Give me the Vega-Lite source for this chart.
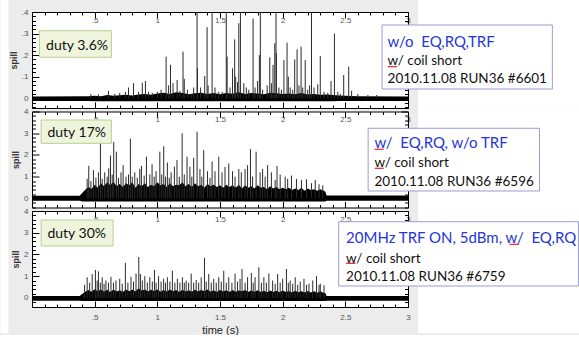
{
"$schema": "https://vega.github.io/schema/vega-lite/v6.json",
"padding": 0,
"background": "#ececec",
"bounds": "flush",
"spacing": 3.5,
"config": {"view": {"stroke": null, "fill": "white"}, "axis": {"grid": false, "domainColor": "black", "tickColor": "black", "labelFont": "Liberation Sans", "labelFontSize": 8, "labelColor": "#555", "titleFont": "Liberation Sans", "labelOverlap": false, "labelFlush": false, "labelBound": false}},
"datasets": {
"band": [
{"p":1,"t":0,"lo":-0.012,"hi":0.008},{"p":1,"t":0.45,"lo":-0.012,"hi":0.009},{"p":1,"t":0.5,"lo":-0.014,"hi":0.012},{"p":1,"t":0.55,"lo":-0.014,"hi":0.01},{"p":1,"t":0.6,"lo":-0.014,"hi":0.015},{"p":1,"t":0.65,"lo":-0.014,"hi":0.012},{"p":1,"t":0.7,"lo":-0.014,"hi":0.014},{"p":1,"t":0.75,"lo":-0.014,"hi":0.016},{"p":1,"t":0.8,"lo":-0.014,"hi":0.013},{"p":1,"t":0.85,"lo":-0.014,"hi":0.018},{"p":1,"t":0.9,"lo":-0.014,"hi":0.02},{"p":1,"t":0.95,"lo":-0.014,"hi":0.016},{"p":1,"t":1.0,"lo":-0.014,"hi":0.022},{"p":1,"t":1.05,"lo":-0.014,"hi":0.026},{"p":1,"t":1.1,"lo":-0.014,"hi":0.02},{"p":1,"t":1.15,"lo":-0.014,"hi":0.028},{"p":1,"t":1.2,"lo":-0.014,"hi":0.024},{"p":1,"t":1.25,"lo":-0.014,"hi":0.019},{"p":1,"t":1.3,"lo":-0.014,"hi":0.023},{"p":1,"t":1.35,"lo":-0.014,"hi":0.026},{"p":1,"t":1.4,"lo":-0.014,"hi":0.02},{"p":1,"t":1.45,"lo":-0.014,"hi":0.024},{"p":1,"t":1.5,"lo":-0.014,"hi":0.019},{"p":1,"t":1.55,"lo":-0.014,"hi":0.025},{"p":1,"t":1.6,"lo":-0.014,"hi":0.021},{"p":1,"t":1.65,"lo":-0.014,"hi":0.028},{"p":1,"t":1.7,"lo":-0.014,"hi":0.02},{"p":1,"t":1.75,"lo":-0.014,"hi":0.024},{"p":1,"t":1.8,"lo":-0.014,"hi":0.022},{"p":1,"t":1.85,"lo":-0.014,"hi":0.019},{"p":1,"t":1.9,"lo":-0.014,"hi":0.026},{"p":1,"t":1.95,"lo":-0.014,"hi":0.023},{"p":1,"t":2.0,"lo":-0.014,"hi":0.02},{"p":1,"t":2.05,"lo":-0.014,"hi":0.022},{"p":1,"t":2.1,"lo":-0.014,"hi":0.019},{"p":1,"t":2.15,"lo":-0.014,"hi":0.024},{"p":1,"t":2.2,"lo":-0.014,"hi":0.018},{"p":1,"t":2.25,"lo":-0.014,"hi":0.02},{"p":1,"t":2.3,"lo":-0.014,"hi":0.016},{"p":1,"t":2.35,"lo":-0.014,"hi":0.018},{"p":1,"t":2.4,"lo":-0.014,"hi":0.015},{"p":1,"t":2.45,"lo":-0.013,"hi":0.013},{"p":1,"t":2.5,"lo":-0.013,"hi":0.012},{"p":1,"t":2.55,"lo":-0.012,"hi":0.011},{"p":1,"t":2.6,"lo":-0.012,"hi":0.009},{"p":1,"t":3.0,"lo":-0.012,"hi":0.008},
{"p":2,"t":0,"lo":-0.11,"hi":0.12},{"p":2,"t":0.38,"lo":-0.11,"hi":0.12},{"p":2,"t":0.4,"lo":-0.14,"hi":0.25},{"p":2,"t":0.425,"lo":-0.14,"hi":0.4},{"p":2,"t":0.45,"lo":-0.14,"hi":0.52},{"p":2,"t":0.475,"lo":-0.14,"hi":0.43},{"p":2,"t":0.5,"lo":-0.14,"hi":0.63},{"p":2,"t":0.525,"lo":-0.14,"hi":0.49},{"p":2,"t":0.55,"lo":-0.14,"hi":0.7},{"p":2,"t":0.575,"lo":-0.14,"hi":0.56},{"p":2,"t":0.6,"lo":-0.14,"hi":0.74},{"p":2,"t":0.625,"lo":-0.14,"hi":0.6},{"p":2,"t":0.65,"lo":-0.14,"hi":0.77},{"p":2,"t":0.675,"lo":-0.14,"hi":0.56},{"p":2,"t":0.7,"lo":-0.14,"hi":0.66},{"p":2,"t":0.725,"lo":-0.14,"hi":0.52},{"p":2,"t":0.75,"lo":-0.14,"hi":0.7},{"p":2,"t":0.775,"lo":-0.14,"hi":0.6},{"p":2,"t":0.8,"lo":-0.14,"hi":0.74},{"p":2,"t":0.825,"lo":-0.14,"hi":0.49},{"p":2,"t":0.85,"lo":-0.14,"hi":0.66},{"p":2,"t":0.875,"lo":-0.14,"hi":0.56},{"p":2,"t":0.9,"lo":-0.14,"hi":0.7},{"p":2,"t":0.925,"lo":-0.14,"hi":0.52},{"p":2,"t":0.95,"lo":-0.14,"hi":0.63},{"p":2,"t":0.975,"lo":-0.14,"hi":0.56},{"p":2,"t":1.0,"lo":-0.14,"hi":0.74},{"p":2,"t":1.025,"lo":-0.14,"hi":0.6},{"p":2,"t":1.05,"lo":-0.14,"hi":0.66},{"p":2,"t":1.075,"lo":-0.14,"hi":0.52},{"p":2,"t":1.1,"lo":-0.14,"hi":0.7},{"p":2,"t":1.125,"lo":-0.14,"hi":0.56},{"p":2,"t":1.15,"lo":-0.14,"hi":0.63},{"p":2,"t":1.175,"lo":-0.14,"hi":0.6},{"p":2,"t":1.2,"lo":-0.14,"hi":0.74},{"p":2,"t":1.225,"lo":-0.14,"hi":0.56},{"p":2,"t":1.25,"lo":-0.14,"hi":0.66},{"p":2,"t":1.275,"lo":-0.14,"hi":0.52},{"p":2,"t":1.3,"lo":-0.14,"hi":0.7},{"p":2,"t":1.325,"lo":-0.14,"hi":0.56},{"p":2,"t":1.35,"lo":-0.14,"hi":0.63},{"p":2,"t":1.375,"lo":-0.14,"hi":0.49},{"p":2,"t":1.4,"lo":-0.14,"hi":0.66},{"p":2,"t":1.425,"lo":-0.14,"hi":0.56},{"p":2,"t":1.45,"lo":-0.14,"hi":0.63},{"p":2,"t":1.475,"lo":-0.14,"hi":0.52},{"p":2,"t":1.5,"lo":-0.14,"hi":0.6},{"p":2,"t":1.525,"lo":-0.14,"hi":0.49},{"p":2,"t":1.55,"lo":-0.14,"hi":0.63},{"p":2,"t":1.575,"lo":-0.14,"hi":0.52},{"p":2,"t":1.6,"lo":-0.14,"hi":0.6},{"p":2,"t":1.625,"lo":-0.14,"hi":0.49},{"p":2,"t":1.65,"lo":-0.14,"hi":0.63},{"p":2,"t":1.675,"lo":-0.14,"hi":0.45},{"p":2,"t":1.7,"lo":-0.14,"hi":0.6},{"p":2,"t":1.725,"lo":-0.14,"hi":0.49},{"p":2,"t":1.75,"lo":-0.14,"hi":0.56},{"p":2,"t":1.775,"lo":-0.14,"hi":0.45},{"p":2,"t":1.8,"lo":-0.14,"hi":0.6},{"p":2,"t":1.825,"lo":-0.14,"hi":0.49},{"p":2,"t":1.85,"lo":-0.14,"hi":0.52},{"p":2,"t":1.875,"lo":-0.14,"hi":0.42},{"p":2,"t":1.9,"lo":-0.14,"hi":0.56},{"p":2,"t":1.925,"lo":-0.14,"hi":0.45},{"p":2,"t":1.95,"lo":-0.14,"hi":0.52},{"p":2,"t":1.975,"lo":-0.14,"hi":0.42},{"p":2,"t":2.0,"lo":-0.14,"hi":0.49},{"p":2,"t":2.025,"lo":-0.14,"hi":0.42},{"p":2,"t":2.05,"lo":-0.14,"hi":0.49},{"p":2,"t":2.075,"lo":-0.14,"hi":0.38},{"p":2,"t":2.1,"lo":-0.14,"hi":0.45},{"p":2,"t":2.125,"lo":-0.14,"hi":0.38},{"p":2,"t":2.15,"lo":-0.14,"hi":0.49},{"p":2,"t":2.175,"lo":-0.14,"hi":0.35},{"p":2,"t":2.2,"lo":-0.14,"hi":0.45},{"p":2,"t":2.225,"lo":-0.14,"hi":0.38},{"p":2,"t":2.25,"lo":-0.14,"hi":0.42},{"p":2,"t":2.275,"lo":-0.14,"hi":0.35},{"p":2,"t":2.3,"lo":-0.14,"hi":0.42},{"p":2,"t":2.325,"lo":-0.14,"hi":0.35},{"p":2,"t":2.34,"lo":-0.14,"hi":0.32},{"p":2,"t":2.35,"lo":-0.11,"hi":0.13},{"p":2,"t":3.0,"lo":-0.11,"hi":0.13},
{"p":3,"t":0,"lo":-0.13,"hi":0.09},{"p":3,"t":0.38,"lo":-0.13,"hi":0.09},{"p":3,"t":0.4,"lo":-0.14,"hi":0.18},{"p":3,"t":0.425,"lo":-0.14,"hi":0.28},{"p":3,"t":0.45,"lo":-0.14,"hi":0.36},{"p":3,"t":0.475,"lo":-0.14,"hi":0.28},{"p":3,"t":0.5,"lo":-0.14,"hi":0.4},{"p":3,"t":0.525,"lo":-0.14,"hi":0.3},{"p":3,"t":0.55,"lo":-0.14,"hi":0.38},{"p":3,"t":0.575,"lo":-0.14,"hi":0.28},{"p":3,"t":0.6,"lo":-0.14,"hi":0.37},{"p":3,"t":0.625,"lo":-0.14,"hi":0.27},{"p":3,"t":0.65,"lo":-0.14,"hi":0.39},{"p":3,"t":0.675,"lo":-0.14,"hi":0.29},{"p":3,"t":0.7,"lo":-0.14,"hi":0.35},{"p":3,"t":0.725,"lo":-0.14,"hi":0.27},{"p":3,"t":0.75,"lo":-0.14,"hi":0.39},{"p":3,"t":0.775,"lo":-0.14,"hi":0.3},{"p":3,"t":0.8,"lo":-0.14,"hi":0.37},{"p":3,"t":0.825,"lo":-0.14,"hi":0.29},{"p":3,"t":0.85,"lo":-0.14,"hi":0.44},{"p":3,"t":0.875,"lo":-0.14,"hi":0.34},{"p":3,"t":0.9,"lo":-0.14,"hi":0.39},{"p":3,"t":0.925,"lo":-0.14,"hi":0.29},{"p":3,"t":0.95,"lo":-0.14,"hi":0.37},{"p":3,"t":0.975,"lo":-0.14,"hi":0.3},{"p":3,"t":1.0,"lo":-0.14,"hi":0.38},{"p":3,"t":1.025,"lo":-0.14,"hi":0.28},{"p":3,"t":1.05,"lo":-0.14,"hi":0.36},{"p":3,"t":1.075,"lo":-0.14,"hi":0.29},{"p":3,"t":1.1,"lo":-0.14,"hi":0.38},{"p":3,"t":1.125,"lo":-0.14,"hi":0.3},{"p":3,"t":1.15,"lo":-0.14,"hi":0.36},{"p":3,"t":1.175,"lo":-0.14,"hi":0.27},{"p":3,"t":1.2,"lo":-0.14,"hi":0.37},{"p":3,"t":1.225,"lo":-0.14,"hi":0.29},{"p":3,"t":1.25,"lo":-0.14,"hi":0.35},{"p":3,"t":1.275,"lo":-0.14,"hi":0.28},{"p":3,"t":1.3,"lo":-0.14,"hi":0.37},{"p":3,"t":1.325,"lo":-0.14,"hi":0.29},{"p":3,"t":1.35,"lo":-0.14,"hi":0.36},{"p":3,"t":1.375,"lo":-0.14,"hi":0.3},{"p":3,"t":1.4,"lo":-0.14,"hi":0.38},{"p":3,"t":1.425,"lo":-0.14,"hi":0.28},{"p":3,"t":1.45,"lo":-0.14,"hi":0.35},{"p":3,"t":1.475,"lo":-0.14,"hi":0.27},{"p":3,"t":1.5,"lo":-0.14,"hi":0.36},{"p":3,"t":1.525,"lo":-0.14,"hi":0.29},{"p":3,"t":1.55,"lo":-0.14,"hi":0.35},{"p":3,"t":1.575,"lo":-0.14,"hi":0.27},{"p":3,"t":1.6,"lo":-0.14,"hi":0.36},{"p":3,"t":1.625,"lo":-0.14,"hi":0.28},{"p":3,"t":1.65,"lo":-0.14,"hi":0.34},{"p":3,"t":1.675,"lo":-0.14,"hi":0.3},{"p":3,"t":1.7,"lo":-0.14,"hi":0.36},{"p":3,"t":1.725,"lo":-0.14,"hi":0.27},{"p":3,"t":1.75,"lo":-0.14,"hi":0.34},{"p":3,"t":1.775,"lo":-0.14,"hi":0.28},{"p":3,"t":1.8,"lo":-0.14,"hi":0.35},{"p":3,"t":1.825,"lo":-0.14,"hi":0.27},{"p":3,"t":1.85,"lo":-0.14,"hi":0.33},{"p":3,"t":1.875,"lo":-0.14,"hi":0.26},{"p":3,"t":1.9,"lo":-0.14,"hi":0.34},{"p":3,"t":1.925,"lo":-0.14,"hi":0.27},{"p":3,"t":1.95,"lo":-0.14,"hi":0.33},{"p":3,"t":1.975,"lo":-0.14,"hi":0.26},{"p":3,"t":2.0,"lo":-0.14,"hi":0.34},{"p":3,"t":2.025,"lo":-0.14,"hi":0.27},{"p":3,"t":2.05,"lo":-0.14,"hi":0.32},{"p":3,"t":2.075,"lo":-0.14,"hi":0.25},{"p":3,"t":2.1,"lo":-0.14,"hi":0.33},{"p":3,"t":2.125,"lo":-0.14,"hi":0.26},{"p":3,"t":2.15,"lo":-0.14,"hi":0.31},{"p":3,"t":2.175,"lo":-0.14,"hi":0.25},{"p":3,"t":2.2,"lo":-0.14,"hi":0.32},{"p":3,"t":2.225,"lo":-0.14,"hi":0.25},{"p":3,"t":2.25,"lo":-0.14,"hi":0.3},{"p":3,"t":2.275,"lo":-0.14,"hi":0.24},{"p":3,"t":2.3,"lo":-0.14,"hi":0.3},{"p":3,"t":2.325,"lo":-0.14,"hi":0.24},{"p":3,"t":2.34,"lo":-0.14,"hi":0.22},{"p":3,"t":2.35,"lo":-0.13,"hi":0.09},{"p":3,"t":3.0,"lo":-0.13,"hi":0.09}
],
"spk": [
{"p":1,"t":0.47,"v":0.02},{"p":1,"t":0.53,"v":0.018},{"p":1,"t":0.61,"v":0.035},{"p":1,"t":0.66,"v":0.02},{"p":1,"t":0.7,"v":0.025},{"p":1,"t":0.745,"v":0.03},{"p":1,"t":0.77,"v":0.05},{"p":1,"t":0.81,"v":0.07},{"p":1,"t":0.85,"v":0.03},{"p":1,"t":0.88,"v":0.072},{"p":1,"t":0.905,"v":0.08},{"p":1,"t":0.93,"v":0.03},{"p":1,"t":0.96,"v":0.025},{"p":1,"t":1.0,"v":0.03},{"p":1,"t":1.03,"v":0.04},{"p":1,"t":1.07,"v":0.193},{"p":1,"t":1.09,"v":0.06},{"p":1,"t":1.105,"v":0.155},{"p":1,"t":1.125,"v":0.07},{"p":1,"t":1.158,"v":0.085},{"p":1,"t":1.18,"v":0.035},{"p":1,"t":1.205,"v":0.216},{"p":1,"t":1.215,"v":0.09},{"p":1,"t":1.24,"v":0.04},{"p":1,"t":1.27,"v":0.02},{"p":1,"t":1.29,"v":0.05},{"p":1,"t":1.317,"v":0.4},{"p":1,"t":1.32,"v":0.14},{"p":1,"t":1.345,"v":0.05},{"p":1,"t":1.378,"v":0.103},{"p":1,"t":1.397,"v":0.33},{"p":1,"t":1.405,"v":0.06},{"p":1,"t":1.437,"v":0.4},{"p":1,"t":1.46,"v":0.05},{"p":1,"t":1.49,"v":0.03},{"p":1,"t":1.517,"v":0.03},{"p":1,"t":1.55,"v":0.4},{"p":1,"t":1.557,"v":0.193},{"p":1,"t":1.58,"v":0.05},{"p":1,"t":1.6,"v":0.139},{"p":1,"t":1.617,"v":0.273},{"p":1,"t":1.625,"v":0.1},{"p":1,"t":1.64,"v":0.075},{"p":1,"t":1.65,"v":0.348},{"p":1,"t":1.663,"v":0.4},{"p":1,"t":1.69,"v":0.07},{"p":1,"t":1.71,"v":0.05},{"p":1,"t":1.73,"v":0.04},{"p":1,"t":1.764,"v":0.37},{"p":1,"t":1.78,"v":0.05},{"p":1,"t":1.8,"v":0.08},{"p":1,"t":1.814,"v":0.2},{"p":1,"t":1.822,"v":0.4},{"p":1,"t":1.84,"v":0.04},{"p":1,"t":1.876,"v":0.06},{"p":1,"t":1.897,"v":0.19},{"p":1,"t":1.91,"v":0.07},{"p":1,"t":1.923,"v":0.155},{"p":1,"t":1.937,"v":0.255},{"p":1,"t":1.947,"v":0.4},{"p":1,"t":1.95,"v":0.21},{"p":1,"t":1.97,"v":0.05},{"p":1,"t":1.99,"v":0.04},{"p":1,"t":2.01,"v":0.177},{"p":1,"t":2.035,"v":0.258},{"p":1,"t":2.045,"v":0.1},{"p":1,"t":2.06,"v":0.05},{"p":1,"t":2.08,"v":0.04},{"p":1,"t":2.096,"v":0.18},{"p":1,"t":2.115,"v":0.227},{"p":1,"t":2.13,"v":0.06},{"p":1,"t":2.147,"v":0.24},{"p":1,"t":2.16,"v":0.05},{"p":1,"t":2.18,"v":0.177},{"p":1,"t":2.2,"v":0.04},{"p":1,"t":2.215,"v":0.06},{"p":1,"t":2.23,"v":0.4},{"p":1,"t":2.25,"v":0.05},{"p":1,"t":2.28,"v":0.065},{"p":1,"t":2.3,"v":0.196},{"p":1,"t":2.33,"v":0.03},{"p":1,"t":2.36,"v":0.025},{"p":1,"t":2.386,"v":0.08},{"p":1,"t":2.413,"v":0.3},{"p":1,"t":2.44,"v":0.03},{"p":1,"t":2.46,"v":0.02},{"p":1,"t":2.487,"v":0.108},{"p":1,"t":2.527,"v":0.146},{"p":1,"t":2.55,"v":0.035},{"p":1,"t":2.6,"v":0.02},{"p":1,"t":2.68,"v":0.015},{"p":1,"t":2.75,"v":0.015},
{"p":2,"t":0.44,"v":0.9},{"p":2,"t":0.453,"v":1.5},{"p":2,"t":0.47,"v":0.8},{"p":2,"t":0.49,"v":1.3},{"p":2,"t":0.51,"v":0.95},{"p":2,"t":0.53,"v":1.2},{"p":2,"t":0.546,"v":2.55},{"p":2,"t":0.56,"v":0.9},{"p":2,"t":0.58,"v":1.2},{"p":2,"t":0.6,"v":1.0},{"p":2,"t":0.612,"v":1.38},{"p":2,"t":0.626,"v":1.97},{"p":2,"t":0.64,"v":1.1},{"p":2,"t":0.652,"v":2.6},{"p":2,"t":0.673,"v":2.15},{"p":2,"t":0.69,"v":0.95},{"p":2,"t":0.71,"v":1.2},{"p":2,"t":0.727,"v":1.53},{"p":2,"t":0.75,"v":1.0},{"p":2,"t":0.77,"v":1.1},{"p":2,"t":0.785,"v":2.75},{"p":2,"t":0.8,"v":1.0},{"p":2,"t":0.82,"v":1.2},{"p":2,"t":0.84,"v":0.95},{"p":2,"t":0.86,"v":1.36},{"p":2,"t":0.873,"v":1.5},{"p":2,"t":0.895,"v":1.05},{"p":2,"t":0.913,"v":1.92},{"p":2,"t":0.94,"v":1.1},{"p":2,"t":0.958,"v":1.57},{"p":2,"t":0.975,"v":1.0},{"p":2,"t":0.99,"v":1.25},{"p":2,"t":1.02,"v":2.15},{"p":2,"t":1.035,"v":1.1},{"p":2,"t":1.051,"v":2.4},{"p":2,"t":1.065,"v":1.0},{"p":2,"t":1.08,"v":1.65},{"p":2,"t":1.095,"v":0.95},{"p":2,"t":1.11,"v":1.2},{"p":2,"t":1.136,"v":1.46},{"p":2,"t":1.157,"v":1.76},{"p":2,"t":1.175,"v":1.0},{"p":2,"t":1.198,"v":3.0},{"p":2,"t":1.215,"v":1.1},{"p":2,"t":1.237,"v":1.92},{"p":2,"t":1.26,"v":1.46},{"p":2,"t":1.275,"v":1.0},{"p":2,"t":1.29,"v":1.87},{"p":2,"t":1.317,"v":3.07},{"p":2,"t":1.34,"v":1.35},{"p":2,"t":1.355,"v":1.0},{"p":2,"t":1.37,"v":2.22},{"p":2,"t":1.4,"v":1.25},{"p":2,"t":1.42,"v":0.95},{"p":2,"t":1.437,"v":1.7},{"p":2,"t":1.46,"v":1.25},{"p":2,"t":1.49,"v":1.92},{"p":2,"t":1.516,"v":1.2},{"p":2,"t":1.54,"v":1.45},{"p":2,"t":1.57,"v":1.61},{"p":2,"t":1.6,"v":1.25},{"p":2,"t":1.62,"v":1.0},{"p":2,"t":1.65,"v":1.35},{"p":2,"t":1.67,"v":1.2},{"p":2,"t":1.7,"v":1.35},{"p":2,"t":1.72,"v":1.53},{"p":2,"t":1.743,"v":2.27},{"p":2,"t":1.76,"v":1.0},{"p":2,"t":1.788,"v":2.15},{"p":2,"t":1.82,"v":1.2},{"p":2,"t":1.84,"v":1.35},{"p":2,"t":1.86,"v":1.0},{"p":2,"t":1.88,"v":1.53},{"p":2,"t":1.91,"v":1.2},{"p":2,"t":1.94,"v":0.85},{"p":2,"t":1.955,"v":1.5},{"p":2,"t":1.98,"v":1.1},{"p":2,"t":2.02,"v":1.0},{"p":2,"t":2.04,"v":0.9},{"p":2,"t":2.07,"v":1.05},{"p":2,"t":2.11,"v":0.9},{"p":2,"t":2.15,"v":0.85},{"p":2,"t":2.19,"v":0.88},{"p":2,"t":2.23,"v":0.7},{"p":2,"t":2.26,"v":0.85},{"p":2,"t":2.29,"v":0.65},{"p":2,"t":2.32,"v":0.6},
{"p":3,"t":0.42,"v":0.6},{"p":3,"t":0.44,"v":0.95},{"p":3,"t":0.46,"v":0.7},{"p":3,"t":0.48,"v":1.1},{"p":3,"t":0.506,"v":1.29},{"p":3,"t":0.52,"v":0.8},{"p":3,"t":0.53,"v":1.22},{"p":3,"t":0.545,"v":0.7},{"p":3,"t":0.56,"v":0.95},{"p":3,"t":0.575,"v":0.65},{"p":3,"t":0.59,"v":0.8},{"p":3,"t":0.61,"v":0.7},{"p":3,"t":0.63,"v":0.97},{"p":3,"t":0.65,"v":0.7},{"p":3,"t":0.67,"v":0.8},{"p":3,"t":0.7,"v":0.88},{"p":3,"t":0.72,"v":0.65},{"p":3,"t":0.745,"v":1.61},{"p":3,"t":0.765,"v":0.7},{"p":3,"t":0.79,"v":0.97},{"p":3,"t":0.81,"v":0.75},{"p":3,"t":0.83,"v":1.12},{"p":3,"t":0.852,"v":1.88},{"p":3,"t":0.865,"v":1.1},{"p":3,"t":0.88,"v":0.8},{"p":3,"t":0.9,"v":1.0},{"p":3,"t":0.92,"v":0.7},{"p":3,"t":0.94,"v":0.95},{"p":3,"t":0.96,"v":0.75},{"p":3,"t":0.977,"v":1.29},{"p":3,"t":0.99,"v":0.7},{"p":3,"t":1.01,"v":1.0},{"p":3,"t":1.03,"v":0.75},{"p":3,"t":1.05,"v":0.88},{"p":3,"t":1.065,"v":0.7},{"p":3,"t":1.08,"v":0.95},{"p":3,"t":1.1,"v":0.75},{"p":3,"t":1.12,"v":1.25},{"p":3,"t":1.14,"v":0.7},{"p":3,"t":1.16,"v":0.88},{"p":3,"t":1.18,"v":0.7},{"p":3,"t":1.2,"v":0.95},{"p":3,"t":1.215,"v":0.7},{"p":3,"t":1.23,"v":0.8},{"p":3,"t":1.25,"v":0.7},{"p":3,"t":1.27,"v":1.12},{"p":3,"t":1.29,"v":0.7},{"p":3,"t":1.31,"v":0.83},{"p":3,"t":1.33,"v":0.7},{"p":3,"t":1.35,"v":0.95},{"p":3,"t":1.376,"v":1.85},{"p":3,"t":1.39,"v":0.75},{"p":3,"t":1.41,"v":1.1},{"p":3,"t":1.43,"v":0.7},{"p":3,"t":1.45,"v":0.88},{"p":3,"t":1.47,"v":0.7},{"p":3,"t":1.49,"v":0.95},{"p":3,"t":1.51,"v":0.75},{"p":3,"t":1.53,"v":1.25},{"p":3,"t":1.55,"v":0.7},{"p":3,"t":1.57,"v":0.95},{"p":3,"t":1.595,"v":0.7},{"p":3,"t":1.62,"v":1.12},{"p":3,"t":1.64,"v":0.75},{"p":3,"t":1.66,"v":0.88},{"p":3,"t":1.676,"v":1.33},{"p":3,"t":1.7,"v":0.7},{"p":3,"t":1.72,"v":0.95},{"p":3,"t":1.75,"v":1.15},{"p":3,"t":1.765,"v":0.7},{"p":3,"t":1.78,"v":0.95},{"p":3,"t":1.81,"v":1.41},{"p":3,"t":1.83,"v":0.7},{"p":3,"t":1.85,"v":0.95},{"p":3,"t":1.87,"v":0.7},{"p":3,"t":1.89,"v":1.12},{"p":3,"t":1.92,"v":0.8},{"p":3,"t":1.94,"v":0.65},{"p":3,"t":1.96,"v":1.1},{"p":3,"t":1.98,"v":0.7},{"p":3,"t":2.0,"v":0.88},{"p":3,"t":2.03,"v":1.33},{"p":3,"t":2.045,"v":0.7},{"p":3,"t":2.06,"v":0.8},{"p":3,"t":2.08,"v":0.65},{"p":3,"t":2.1,"v":0.95},{"p":3,"t":2.12,"v":0.6},{"p":3,"t":2.14,"v":0.75},{"p":3,"t":2.17,"v":0.88},{"p":3,"t":2.19,"v":0.6},{"p":3,"t":2.21,"v":0.65},{"p":3,"t":2.24,"v":0.8},{"p":3,"t":2.27,"v":1.0},{"p":3,"t":2.29,"v":0.6},{"p":3,"t":2.3,"v":0.65},{"p":3,"t":2.33,"v":0.58}
]
},
"vconcat": [
{
"width": 376, "height": 96,
"resolve": {"axis": {"x": "independent", "y": "independent"}},
"layer": [
{"data": {"values": [{}]}, "mark": {"type": "rect", "fill": "white"},
 "encoding": {"x": {"datum": -0.2521, "type": "quantitative", "scale": {"domain": [0,3], "nice": false, "zero": false}, "axis": null}, "x2": {"datum": -0.188},
  "y": {"datum": -0.0612, "type": "quantitative", "scale": {"domain": [-0.045,0.4], "nice": false, "zero": false}, "axis": null}, "y2": {"datum": 0.4556}}},
{"data": {"values": [{}]}, "mark": {"type": "rect", "fill": "white"},
 "encoding": {"x": {"datum": 3.08, "type": "quantitative", "scale": {"domain": [0,3], "nice": false, "zero": false}, "axis": null}, "x2": {"datum": 4.37},
  "y": {"datum": -0.0612, "type": "quantitative", "scale": {"domain": [-0.045,0.4], "nice": false, "zero": false}, "axis": null}, "y2": {"datum": 0.4556}}},
{"data": {"name": "band"}, "transform": [{"filter": "datum.p==1"}], "mark": {"type": "area", "color": "black", "clip": true},
 "encoding": {"x": {"field": "t", "type": "quantitative", "scale": {"domain": [0,3], "nice": false, "zero": false},
   "axis": {"orient": "bottom", "values": [0,0.1,0.2,0.3,0.4,0.5,0.6,0.7,0.8,0.9,1,1.1,1.2,1.3,1.4,1.5,1.6,1.7,1.8,1.9,2,2.1,2.2,2.3,2.4,2.5,2.6,2.7,2.8,2.9,3], "labels": false, "title": null,
    "tickSize": {"condition": {"test": "abs(datum.value*2-round(datum.value*2))<0.001", "value": -6}, "value": -3}}},
  "y": {"field": "lo", "type": "quantitative", "scale": {"domain": [-0.045,0.4], "nice": false, "zero": false},
   "axis": {"orient": "left", "values": [-0.04,-0.02,0,0.02,0.04,0.06,0.08,0.1,0.12,0.14,0.16,0.18,0.2,0.22,0.24,0.26,0.28,0.3,0.32,0.34,0.36,0.38,0.4],
    "labelExpr": "abs(datum.value*10-round(datum.value*10))<0.001 && datum.value>-0.001 ? (abs(datum.value)<0.001 ? '0' : replace(format(datum.value,'.1f'),'0.','.')) : ''",
    "tickSize": {"condition": {"test": "abs(datum.value*10-round(datum.value*10))<0.001", "value": -7}, "value": -3.5}, "labelPadding": 11,
    "title": "spill", "titleFontSize": 9, "titleFontWeight": "bold", "titleColor": "#333", "titlePadding": 3}},
  "y2": {"field": "hi"}}},
{"data": {"name": "spk"}, "transform": [{"filter": "datum.p==1"}], "mark": {"type": "rule", "color": "#2a2a2a", "strokeWidth": 1, "clip": true},
 "encoding": {"x": {"field": "t", "type": "quantitative", "scale": {"domain": [0,3], "nice": false, "zero": false},
   "axis": {"orient": "top", "values": [0,0.1,0.2,0.3,0.4,0.5,0.6,0.7,0.8,0.9,1,1.1,1.2,1.3,1.4,1.5,1.6,1.7,1.8,1.9,2,2.1,2.2,2.3,2.4,2.5,2.6,2.7,2.8,2.9,3], "title": null,
    "labelExpr": "abs(datum.value*2-round(datum.value*2))<0.001 && datum.value>0.01 ? replace(format(datum.value,'.1~f'),'0.','.') : ''",
    "labelBaseline": "top", "labelPadding": 2,
    "tickSize": {"condition": {"test": "abs(datum.value*2-round(datum.value*2))<0.001", "value": -6}, "value": -3}}},
  "y": {"field": "v", "type": "quantitative", "scale": {"domain": [-0.045,0.4], "nice": false, "zero": false},
   "axis": {"orient": "right", "values": [-0.04,-0.02,0,0.02,0.04,0.06,0.08,0.1,0.12,0.14,0.16,0.18,0.2,0.22,0.24,0.26,0.28,0.3,0.32,0.34,0.36,0.38,0.4], "labels": false, "title": null,
    "tickSize": {"condition": {"test": "abs(datum.value*10-round(datum.value*10))<0.001", "value": -7}, "value": -3.5}}},
  "y2": {"datum": 0}}},
{"data": {"values": [{}]}, "mark": {"type": "rect", "fill": "#eef5dc", "stroke": "#b9cf90", "strokeWidth": 1},
 "encoding": {"x": {"datum": 0.059, "type": "quantitative", "scale": {"domain": [0,3], "nice": false, "zero": false}, "axis": null}, "x2": {"datum": 0.6335},
  "y": {"datum": 0.19, "type": "quantitative", "scale": {"domain": [-0.045,0.4], "nice": false, "zero": false}, "axis": null}, "y2": {"datum": 0.3133}}},
{"data": {"values": [{}]}, "mark": {"type": "text", "text": "duty 3.6%", "align": "left", "baseline": "alphabetic", "font": "Lato", "fontSize": 14, "color": "#111"},
 "encoding": {"x": {"datum": 0.1125, "type": "quantitative", "scale": {"domain": [0,3], "nice": false, "zero": false}, "axis": null},
  "y": {"datum": 0.2239, "type": "quantitative", "scale": {"domain": [-0.045,0.4], "nice": false, "zero": false}, "axis": null}}},
{"data": {"values": [{}]}, "mark": {"type": "rect", "fill": "white", "stroke": "#9c9cd8", "strokeWidth": 1},
 "encoding": {"x": {"datum": 2.793, "type": "quantitative", "scale": {"domain": [0,3], "nice": false, "zero": false}, "axis": null}, "x2": {"datum": 4.152},
  "y": {"datum": 0.0431, "type": "quantitative", "scale": {"domain": [-0.045,0.4], "nice": false, "zero": false}, "axis": null}, "y2": {"datum": 0.3397}}},
{"data": {"values": [{}]}, "mark": {"type": "text", "text": "w/o \u00a0EQ,RQ,TRF", "align": "left", "baseline": "alphabetic", "font": "Lato", "fontSize": 15, "color": "#2536d9"},
 "encoding": {"x": {"datum": 2.837, "type": "quantitative", "scale": {"domain": [0,3], "nice": false, "zero": false}, "axis": null},
  "y": {"datum": 0.2378, "type": "quantitative", "scale": {"domain": [-0.045,0.4], "nice": false, "zero": false}, "axis": null}}},
{"data": {"values": [{}]}, "mark": {"type": "text", "text": ["w/ coil short", "2010.11.08 RUN36 #6601"], "lineHeight": 18.3, "align": "left", "baseline": "alphabetic", "font": "Lato", "fontSize": 13.5, "color": "#111"},
 "encoding": {"x": {"datum": 2.837, "type": "quantitative", "scale": {"domain": [0,3], "nice": false, "zero": false}, "axis": null},
  "y": {"datum": 0.1543, "type": "quantitative", "scale": {"domain": [-0.045,0.4], "nice": false, "zero": false}, "axis": null}}},
{"data": {"values": [{}]}, "mark": {"type": "rule", "color": "#d82828", "strokeWidth": 1.2},
 "encoding": {"x": {"datum": 2.838, "type": "quantitative", "scale": {"domain": [0,3], "nice": false, "zero": false}, "axis": null}, "x2": {"datum": 2.913},
  "y": {"datum": 0.1464, "type": "quantitative", "scale": {"domain": [-0.045,0.4], "nice": false, "zero": false}, "axis": null}}}
]
},
{
"width": 376, "height": 96,
"resolve": {"axis": {"x": "independent", "y": "independent"}},
"layer": [
{"data": {"values": [{}]}, "mark": {"type": "rect", "fill": "white"},
 "encoding": {"x": {"datum": -0.2521, "type": "quantitative", "scale": {"domain": [0,3], "nice": false, "zero": false}, "axis": null}, "x2": {"datum": -0.188},
  "y": {"datum": -0.581, "type": "quantitative", "scale": {"domain": [-0.42,4], "nice": false, "zero": false}, "axis": null}, "y2": {"datum": 4}}},
{"data": {"values": [{}]}, "mark": {"type": "rect", "fill": "white"},
 "encoding": {"x": {"datum": 3.08, "type": "quantitative", "scale": {"domain": [0,3], "nice": false, "zero": false}, "axis": null}, "x2": {"datum": 4.37},
  "y": {"datum": -0.581, "type": "quantitative", "scale": {"domain": [-0.42,4], "nice": false, "zero": false}, "axis": null}, "y2": {"datum": 4}}},
{"data": {"name": "band"}, "transform": [{"filter": "datum.p==2"}], "mark": {"type": "area", "color": "black", "clip": true},
 "encoding": {"x": {"field": "t", "type": "quantitative", "scale": {"domain": [0,3], "nice": false, "zero": false},
   "axis": {"orient": "bottom", "values": [0,0.1,0.2,0.3,0.4,0.5,0.6,0.7,0.8,0.9,1,1.1,1.2,1.3,1.4,1.5,1.6,1.7,1.8,1.9,2,2.1,2.2,2.3,2.4,2.5,2.6,2.7,2.8,2.9,3], "labels": false, "title": null,
    "tickSize": {"condition": {"test": "abs(datum.value*2-round(datum.value*2))<0.001", "value": -6}, "value": -3}}},
  "y": {"field": "lo", "type": "quantitative", "scale": {"domain": [-0.42,4], "nice": false, "zero": false},
   "axis": {"orient": "left", "values": [-0.4,-0.2,0,0.2,0.4,0.6,0.8,1,1.2,1.4,1.6,1.8,2,2.2,2.4,2.6,2.8,3,3.2,3.4,3.6,3.8,4],
    "labelExpr": "abs(datum.value-round(datum.value))<0.001 && datum.value>-0.001 ? format(datum.value,'d') : ''",
    "tickSize": {"condition": {"test": "abs(datum.value-round(datum.value))<0.001", "value": -7}, "value": -3.5}, "labelPadding": 11,
    "title": "spill", "titleFontSize": 9, "titleFontWeight": "bold", "titleColor": "#333", "titlePadding": 3}},
  "y2": {"field": "hi"}}},
{"data": {"name": "spk"}, "transform": [{"filter": "datum.p==2"}], "mark": {"type": "rule", "color": "#2a2a2a", "strokeWidth": 1, "clip": true},
 "encoding": {"x": {"field": "t", "type": "quantitative", "scale": {"domain": [0,3], "nice": false, "zero": false},
   "axis": {"orient": "top", "values": [0,0.1,0.2,0.3,0.4,0.5,0.6,0.7,0.8,0.9,1,1.1,1.2,1.3,1.4,1.5,1.6,1.7,1.8,1.9,2,2.1,2.2,2.3,2.4,2.5,2.6,2.7,2.8,2.9,3], "title": null,
    "labelExpr": "abs(datum.value*2-round(datum.value*2))<0.001 && datum.value>0.01 ? replace(format(datum.value,'.1~f'),'0.','.') : ''",
    "labelBaseline": "top", "labelPadding": 2,
    "tickSize": {"condition": {"test": "abs(datum.value*2-round(datum.value*2))<0.001", "value": -6}, "value": -3}}},
  "y": {"field": "v", "type": "quantitative", "scale": {"domain": [-0.42,4], "nice": false, "zero": false},
   "axis": {"orient": "right", "values": [-0.4,-0.2,0,0.2,0.4,0.6,0.8,1,1.2,1.4,1.6,1.8,2,2.2,2.4,2.6,2.8,3,3.2,3.4,3.6,3.8,4], "labels": false, "title": null,
    "tickSize": {"condition": {"test": "abs(datum.value-round(datum.value))<0.001", "value": -7}, "value": -3.5}}},
  "y2": {"datum": 0}}},
{"data": {"values": [{}]}, "mark": {"type": "rect", "fill": "#eef5dc", "stroke": "#b9cf90", "strokeWidth": 1},
 "encoding": {"x": {"datum": 0.0726, "type": "quantitative", "scale": {"domain": [0,3], "nice": false, "zero": false}, "axis": null}, "x2": {"datum": 0.6335},
  "y": {"datum": 2.536, "type": "quantitative", "scale": {"domain": [-0.42,4], "nice": false, "zero": false}, "axis": null}, "y2": {"datum": 3.609}}},
{"data": {"values": [{}]}, "mark": {"type": "text", "text": "duty 17%", "align": "left", "baseline": "alphabetic", "font": "Lato", "fontSize": 14, "color": "#111"},
 "encoding": {"x": {"datum": 0.123, "type": "quantitative", "scale": {"domain": [0,3], "nice": false, "zero": false}, "axis": null},
  "y": {"datum": 2.826, "type": "quantitative", "scale": {"domain": [-0.42,4], "nice": false, "zero": false}, "axis": null}}},
{"data": {"values": [{}]}, "mark": {"type": "rect", "fill": "white", "stroke": "#9c9cd8", "strokeWidth": 1},
 "encoding": {"x": {"datum": 2.682, "type": "quantitative", "scale": {"domain": [0,3], "nice": false, "zero": false}, "axis": null}, "x2": {"datum": 4.049},
  "y": {"datum": 0.34, "type": "quantitative", "scale": {"domain": [-0.42,4], "nice": false, "zero": false}, "axis": null}, "y2": {"datum": 3.227}}},
{"data": {"values": [{}]}, "mark": {"type": "text", "text": "w/ \u00a0EQ,RQ, w/o TRF", "align": "left", "baseline": "alphabetic", "font": "Lato", "fontSize": 15, "color": "#2536d9"},
 "encoding": {"x": {"datum": 2.732, "type": "quantitative", "scale": {"domain": [0,3], "nice": false, "zero": false}, "axis": null},
  "y": {"datum": 2.32, "type": "quantitative", "scale": {"domain": [-0.42,4], "nice": false, "zero": false}, "axis": null}}},
{"data": {"values": [{}]}, "mark": {"type": "text", "text": ["w/ coil short", "2010.11.08 RUN36 #6596"], "lineHeight": 19, "align": "left", "baseline": "alphabetic", "font": "Lato", "fontSize": 13.5, "color": "#111"},
 "encoding": {"x": {"datum": 2.732, "type": "quantitative", "scale": {"domain": [0,3], "nice": false, "zero": false}, "axis": null},
  "y": {"datum": 1.445, "type": "quantitative", "scale": {"domain": [-0.42,4], "nice": false, "zero": false}, "axis": null}}},
{"data": {"values": [{}]}, "mark": {"type": "rule", "color": "#d82828", "strokeWidth": 1.2},
 "encoding": {"x": {"datum": 2.734, "type": "quantitative", "scale": {"domain": [0,3], "nice": false, "zero": false}, "axis": null}, "x2": {"datum": 2.806},
  "y": {"datum": 2.26, "type": "quantitative", "scale": {"domain": [-0.42,4], "nice": false, "zero": false}, "axis": null}}},
{"data": {"values": [{}]}, "mark": {"type": "rule", "color": "#d82828", "strokeWidth": 1.2},
 "encoding": {"x": {"datum": 2.734, "type": "quantitative", "scale": {"domain": [0,3], "nice": false, "zero": false}, "axis": null}, "x2": {"datum": 2.806},
  "y": {"datum": 1.385, "type": "quantitative", "scale": {"domain": [-0.42,4], "nice": false, "zero": false}, "axis": null}}}
]
},
{
"width": 376, "height": 96,
"resolve": {"axis": {"x": "independent", "y": "independent"}},
"layer": [
{"data": {"values": [{}]}, "mark": {"type": "rect", "fill": "white"},
 "encoding": {"x": {"datum": -0.2521, "type": "quantitative", "scale": {"domain": [0,3], "nice": false, "zero": false}, "axis": null}, "x2": {"datum": -0.188},
  "y": {"datum": -1.617, "type": "quantitative", "scale": {"domain": [-0.42,4], "nice": false, "zero": false}, "axis": null}, "y2": {"datum": 4}}},
{"data": {"values": [{}]}, "mark": {"type": "rect", "fill": "white"},
 "encoding": {"x": {"datum": 3.08, "type": "quantitative", "scale": {"domain": [0,3], "nice": false, "zero": false}, "axis": null}, "x2": {"datum": 4.37},
  "y": {"datum": -1.617, "type": "quantitative", "scale": {"domain": [-0.42,4], "nice": false, "zero": false}, "axis": null}, "y2": {"datum": 4}}},
{"data": {"name": "band"}, "transform": [{"filter": "datum.p==3"}], "mark": {"type": "area", "color": "black", "clip": true},
 "encoding": {"x": {"field": "t", "type": "quantitative", "scale": {"domain": [0,3], "nice": false, "zero": false},
   "axis": {"orient": "bottom", "values": [0,0.1,0.2,0.3,0.4,0.5,0.6,0.7,0.8,0.9,1,1.1,1.2,1.3,1.4,1.5,1.6,1.7,1.8,1.9,2,2.1,2.2,2.3,2.4,2.5,2.6,2.7,2.8,2.9,3],
    "labelExpr": "abs(datum.value*2-round(datum.value*2))<0.001 && datum.value>0.01 ? replace(format(datum.value,'.1~f'),'0.','.') : ''",
    "labelPadding": 12, "labelBaseline": "top",
    "title": "time (s)", "titleFontSize": 11, "titleFontWeight": "normal", "titleColor": "#222", "titlePadding": 0,
    "tickSize": {"condition": {"test": "abs(datum.value*2-round(datum.value*2))<0.001", "value": -6}, "value": -3}}},
  "y": {"field": "lo", "type": "quantitative", "scale": {"domain": [-0.42,4], "nice": false, "zero": false},
   "axis": {"orient": "left", "values": [-0.4,-0.2,0,0.2,0.4,0.6,0.8,1,1.2,1.4,1.6,1.8,2,2.2,2.4,2.6,2.8,3,3.2,3.4,3.6,3.8,4],
    "labelExpr": "abs(datum.value-round(datum.value))<0.001 && datum.value>-0.001 ? format(datum.value,'d') : ''",
    "tickSize": {"condition": {"test": "abs(datum.value-round(datum.value))<0.001", "value": -7}, "value": -3.5}, "labelPadding": 11,
    "title": "spill", "titleFontSize": 9, "titleFontWeight": "bold", "titleColor": "#333", "titlePadding": 3}},
  "y2": {"field": "hi"}}},
{"data": {"name": "spk"}, "transform": [{"filter": "datum.p==3"}], "mark": {"type": "rule", "color": "#2a2a2a", "strokeWidth": 1, "clip": true},
 "encoding": {"x": {"field": "t", "type": "quantitative", "scale": {"domain": [0,3], "nice": false, "zero": false},
   "axis": {"orient": "top", "values": [0,0.1,0.2,0.3,0.4,0.5,0.6,0.7,0.8,0.9,1,1.1,1.2,1.3,1.4,1.5,1.6,1.7,1.8,1.9,2,2.1,2.2,2.3,2.4,2.5,2.6,2.7,2.8,2.9,3], "title": null,
    "labelExpr": "abs(datum.value*2-round(datum.value*2))<0.001 && datum.value>0.01 ? replace(format(datum.value,'.1~f'),'0.','.') : ''",
    "labelBaseline": "top", "labelPadding": 2,
    "tickSize": {"condition": {"test": "abs(datum.value*2-round(datum.value*2))<0.001", "value": -6}, "value": -3}}},
  "y": {"field": "v", "type": "quantitative", "scale": {"domain": [-0.42,4], "nice": false, "zero": false},
   "axis": {"orient": "right", "values": [-0.4,-0.2,0,0.2,0.4,0.6,0.8,1,1.2,1.4,1.6,1.8,2,2.2,2.4,2.6,2.8,3,3.2,3.4,3.6,3.8,4], "labels": false, "title": null,
    "tickSize": {"condition": {"test": "abs(datum.value-round(datum.value))<0.001", "value": -7}, "value": -3.5}}},
  "y2": {"datum": 0}}},
{"data": {"values": [{}]}, "mark": {"type": "rect", "fill": "#eef5dc", "stroke": "#b9cf90", "strokeWidth": 1},
 "encoding": {"x": {"datum": 0.0726, "type": "quantitative", "scale": {"domain": [0,3], "nice": false, "zero": false}, "axis": null}, "x2": {"datum": 0.647},
  "y": {"datum": 2.389, "type": "quantitative", "scale": {"domain": [-0.42,4], "nice": false, "zero": false}, "axis": null}, "y2": {"datum": 3.586}}},
{"data": {"values": [{}]}, "mark": {"type": "text", "text": "duty 30%", "align": "left", "baseline": "alphabetic", "font": "Lato", "fontSize": 14, "color": "#111"},
 "encoding": {"x": {"datum": 0.123, "type": "quantitative", "scale": {"domain": [0,3], "nice": false, "zero": false}, "axis": null},
  "y": {"datum": 2.757, "type": "quantitative", "scale": {"domain": [-0.42,4], "nice": false, "zero": false}, "axis": null}}},
{"data": {"values": [{}]}, "mark": {"type": "rect", "fill": "white", "stroke": "#9c9cd8", "strokeWidth": 1},
 "encoding": {"x": {"datum": 2.447, "type": "quantitative", "scale": {"domain": [0,3], "nice": false, "zero": false}, "axis": null}, "x2": {"datum": 4.36},
  "y": {"datum": 0.547, "type": "quantitative", "scale": {"domain": [-0.42,4], "nice": false, "zero": false}, "axis": null}, "y2": {"datum": 3.507}}},
{"data": {"values": [{}]}, "mark": {"type": "text", "text": "20MHz TRF ON, 5dBm, w/ \u00a0EQ,RQ", "align": "left", "baseline": "alphabetic", "font": "Lato", "fontSize": 15, "color": "#2536d9"},
 "encoding": {"x": {"datum": 2.506, "type": "quantitative", "scale": {"domain": [0,3], "nice": false, "zero": false}, "axis": null},
  "y": {"datum": 2.527, "type": "quantitative", "scale": {"domain": [-0.42,4], "nice": false, "zero": false}, "axis": null}}},
{"data": {"values": [{}]}, "mark": {"type": "text", "text": ["w/ coil short", "2010.11.08 RUN36 #6759"], "lineHeight": 18.5, "align": "left", "baseline": "alphabetic", "font": "Lato", "fontSize": 13.5, "color": "#111"},
 "encoding": {"x": {"datum": 2.506, "type": "quantitative", "scale": {"domain": [0,3], "nice": false, "zero": false}, "axis": null},
  "y": {"datum": 1.606, "type": "quantitative", "scale": {"domain": [-0.42,4], "nice": false, "zero": false}, "axis": null}}},
{"data": {"values": [{}]}, "mark": {"type": "rule", "color": "#d82828", "strokeWidth": 1.2},
 "encoding": {"x": {"datum": 3.81, "type": "quantitative", "scale": {"domain": [0,3], "nice": false, "zero": false}, "axis": null}, "x2": {"datum": 3.885},
  "y": {"datum": 2.467, "type": "quantitative", "scale": {"domain": [-0.42,4], "nice": false, "zero": false}, "axis": null}}},
{"data": {"values": [{}]}, "mark": {"type": "rule", "color": "#d82828", "strokeWidth": 1.2},
 "encoding": {"x": {"datum": 2.506, "type": "quantitative", "scale": {"domain": [0,3], "nice": false, "zero": false}, "axis": null}, "x2": {"datum": 2.581},
  "y": {"datum": 1.592, "type": "quantitative", "scale": {"domain": [-0.42,4], "nice": false, "zero": false}, "axis": null}}}
]
}
]
}
